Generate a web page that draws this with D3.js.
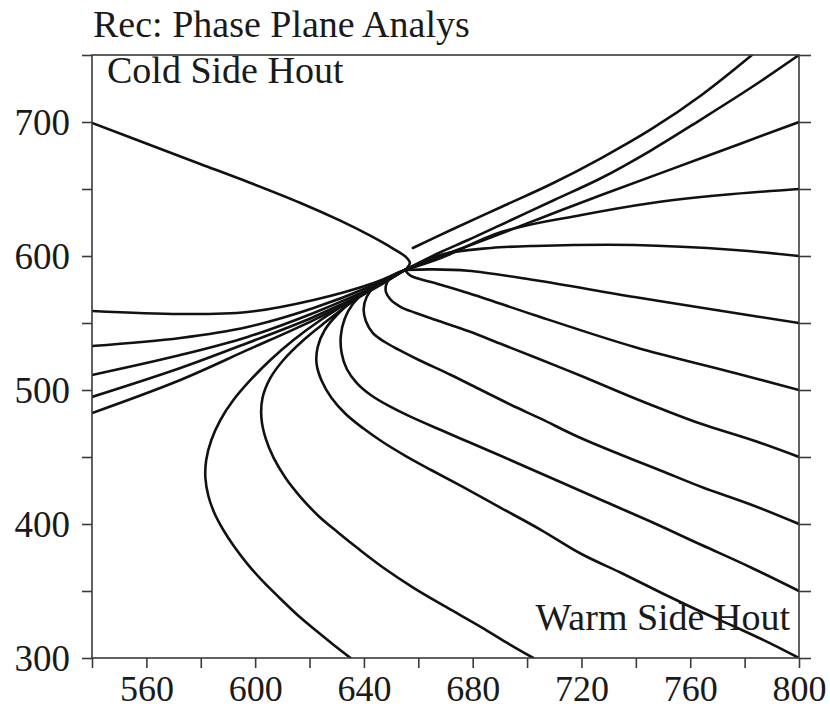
<!DOCTYPE html>
<html><head><meta charset="utf-8">
<script src="https://cdn.jsdelivr.net/npm/d3@7"></script>
<style>body{margin:0;background:#fff} svg{display:block}</style>
</head><body><svg id="c" width="830" height="709"></svg>
<script>
// ---------- data ----------
const xTicks = [540,560,580,600,620,640,660,680,700,720,740,760,780,800];
const xTickLabels = [560,600,640,680,720,760,800];
const yTicks = [300,350,400,450,500,550,600,650,700,750];
const yTickLabels = [300,400,500,600,700];
const titleText = "Rec: Phase Plane Analys";
const coldLabel = "Cold Side Hout";
const warmLabel = "Warm Side Hout";

// trajectories [Thot, Tcold]
const trajA = [[540,699.3],[561.4,682.8],[579.8,668.7],[598.3,654.5],[616.7,639.6],[631.5,626.2],[642.5,615.0],[651.0,605.2],[655.4,599.3],[656.9,594.8],[655.8,591.0]];
const trajB = [[658.0,606.0],[672.0,619.4],[690.5,636.6],[708.9,653.7],[727.3,673.1],[745.8,694.8],[764.2,720.2],[782.7,750]];
const trajC = [[655.1,589.6],[668.3,603.0],[678.3,611.9],[694.2,626.9],[710.0,641.8],[727.3,658.2],[745.8,679.1],[764.2,702.2],[782.7,726.1],[800,750]];
const trajD = [[655.1,589.6],[668.3,600.0],[684.2,611.9],[705.2,628.4],[727.3,645.5],[764.2,673.1],[800,700]];
const trajE = [[655.1,589.6],[668.3,598.5],[690.5,617.9],[720.0,630.6],[745.8,639.6],[771.6,645.5],[800,650]];
const trajF = [[655.1,589.6],[669.4,601.5],[686.8,606.0],[702.6,607.5],[739.5,608.2],[776.4,604.5],[800,600]];
const trajG = [[655.1,589.6],[664.7,590.0],[678.3,589.0],[702.6,582.1],[739.5,569.4],[776.4,557.5],[800,550]];
const trajH = [[655.1,589.6],[657.3,585.1],[664.7,580.6],[678.3,572.4],[702.6,556.0],[739.5,532.1],[776.4,512.7],[800,500]];
const trajI6 = [[655.1,589.6],[651.0,585.8],[648.4,579.9],[648.1,573.1],[649.9,567.2],[653.6,561.9],[659.1,557.5],[666.5,552.2],[678.3,544.0],[690.5,534.3],[702.6,524.6],[720.0,510.4],[736.6,496.3],[749.5,485.8],[764.2,474.6],[782.7,462.7],[800,450]];
const trajI5 = [[655.1,589.6],[649.2,584.3],[644.0,577.6],[641.0,569.4],[639.9,560.4],[640.7,551.5],[643.3,542.5],[647.7,535.8],[652.9,529.9],[660.2,522.4],[672.0,511.2],[683.1,500.0],[694.2,488.8],[705.2,478.4],[718.9,464.9],[734.7,451.5],[749.5,439.6],[764.2,427.6],[782.7,414.2],[800,400]];
const trajI4 = [[655.1,589.6],[647.3,582.1],[640.7,573.9],[635.9,564.2],[632.9,553.0],[631.5,540.3],[631.8,527.6],[633.7,515.7],[637.4,505.2],[642.5,496.3],[649.2,488.1],[657.3,479.9],[668.3,470.1],[679.4,460.4],[690.5,450.7],[708.9,434.3],[727.3,417.9],[745.8,401.5],[764.2,384.3],[782.7,367.2],[800,350]];
const trajI3 = [[655.1,589.6],[645.5,579.1],[637.0,568.7],[630.4,556.7],[625.6,544.8],[623.0,532.1],[622.6,519.4],[624.5,506.7],[628.1,494.0],[633.3,482.1],[639.6,471.6],[646.9,461.2],[655.4,450.7],[664.7,440.3],[675.7,428.4],[690.5,411.9],[705.2,395.5],[720.0,377.6],[734.7,363.4],[749.5,348.5],[764.2,334.3],[779.0,320.9],[790.0,310.4],[800,300]];
const trajI2 = [[655.1,589.6],[645.5,578.4],[635.1,564.9],[625.9,550.7],[617.4,536.6],[610.4,522.4],[605.6,509.0],[602.7,494.0],[602.3,479.1],[603.8,464.2],[606.8,449.3],[611.2,434.3],[616.7,420.1],[623.3,406.0],[630.7,393.3],[638.1,381.3],[647.3,367.2],[658.4,352.2],[670.2,338.1],[683.1,323.1],[692.7,311.2],[702.3,300]];
const trajI1 = [[655.1,589.6],[646.2,579.9],[635.1,566.4],[624.1,552.2],[614.1,537.3],[605.6,522.4],[598.3,507.5],[592.0,492.5],[587.2,477.6],[583.9,462.7],[582.0,447.8],[581.7,434.3],[582.8,420.9],[585.0,408.2],[588.3,395.5],[592.4,382.8],[597.2,370.1],[602.7,357.5],[609.0,344.8],[616.0,331.3],[622.6,320.1],[628.9,309.7],[635.1,300]];
const trajJ1 = [[655.1,589.6],[643.6,579.9],[621.5,567.2],[597.2,558.2],[572.5,556.7],[540,559.0]];
const trajJ2 = [[655.1,589.6],[643.6,578.4],[621.5,561.2],[597.2,547.0],[572.5,538.8],[540,532.8]];
const trajJ3 = [[655.1,589.6],[643.6,576.9],[621.5,557.5],[597.2,539.6],[572.5,526.1],[540,511.2]];
const trajJ4 = [[655.1,589.6],[643.6,576.1],[621.5,554.5],[597.2,535.1],[572.5,516.4],[540,494.8]];
const trajJ5 = [[655.1,589.6],[643.6,575.4],[621.5,552.2],[597.2,529.9],[572.5,507.5],[540,482.8]];

const trajectories = [trajA,trajB,trajC,trajD,trajE,trajF,trajG,trajH,trajI6,trajI5,trajI4,trajI3,trajI2,trajI1,trajJ1,trajJ2,trajJ3,trajJ4,trajJ5];

// ---------- layout ----------
const L = 92, R = 799, T = 55, B = 658;
const FONT = "'Liberation Serif','Times New Roman',serif";
const svg = d3.select("#c");
const x = d3.scaleLinear().domain([540,800]).range([L,R]);
const y = d3.scaleLinear().domain([300,750]).range([B,T]);

svg.append("defs").append("clipPath").attr("id","clip")
  .append("rect").attr("x",L).attr("y",T).attr("width",R-L).attr("height",B-T);

const line = d3.line().x(d=>x(d[0])).y(d=>y(d[1])).curve(d3.curveCatmullRom.alpha(0.5));
svg.append("g").attr("clip-path","url(#clip)")
  .selectAll("path").data(trajectories).join("path")
  .attr("d", line).attr("fill","none").attr("stroke","#111")
  .attr("stroke-width",2.6).attr("stroke-linejoin","round").attr("stroke-linecap","round");

const axisColor = "#3a3a3a";
function styleAxis(g){
  g.select(".domain").remove();
  g.selectAll(".tick line").attr("stroke",axisColor).attr("stroke-width",1.6);
  g.selectAll(".tick text").attr("font-family",FONT).attr("font-size",37).attr("fill","#1a1a1a");
}
const fmtX = d => xTickLabels.includes(d) ? String(d) : "";
const fmtY = d => yTickLabels.includes(d) ? String(d) : "";

svg.append("g").attr("transform",`translate(0,${B})`)
  .call(d3.axisBottom(x).tickValues(xTicks).tickSize(10).tickFormat(fmtX))
  .call(styleAxis)
  .call(g=>g.selectAll(".tick text").attr("font-size",36).attr("y",43).attr("dy",0));

svg.append("g").attr("transform",`translate(${L},0)`)
  .call(d3.axisLeft(y).tickValues(yTicks).tickSize(10).tickPadding(12).tickFormat(fmtY))
  .call(styleAxis)
  .call(g=>g.selectAll(".tick text").attr("dy",0).attr("transform","translate(0,12)"));

svg.append("g").attr("transform",`translate(${R},0)`)
  .call(d3.axisRight(y).tickValues(yTicks).tickSize(12).tickFormat(""))
  .call(styleAxis);

// frame
svg.append("rect").attr("x",L).attr("y",T).attr("width",R-L).attr("height",B-T)
  .attr("fill","none").attr("stroke",axisColor).attr("stroke-width",1.6);

// texts
svg.append("text").attr("x",93).attr("y",37).attr("font-family",FONT).attr("font-size",38).attr("fill","#1a1a1a").text(titleText);
svg.append("text").attr("x",107).attr("y",83).attr("font-family",FONT).attr("font-size",38).attr("fill","#1a1a1a").text(coldLabel);
svg.append("text").attr("x",790).attr("y",630).attr("text-anchor","end").attr("font-family",FONT).attr("font-size",38).attr("fill","#1a1a1a").text(warmLabel);
</script></body></html>
